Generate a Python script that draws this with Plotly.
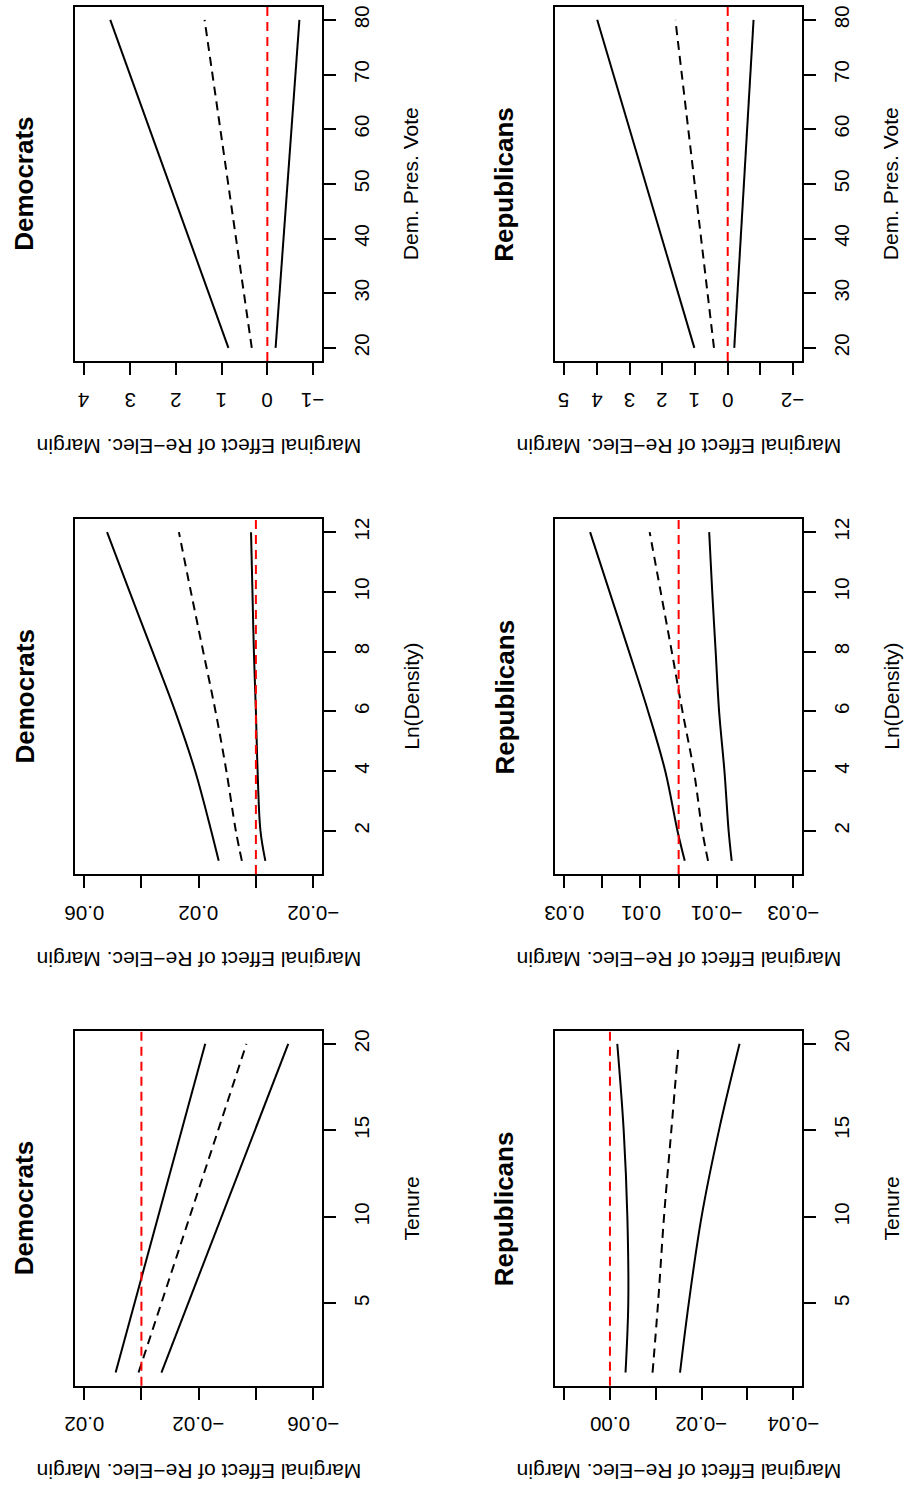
import plotly.graph_objects as go

# ---------------- data ----------------
pres_vote = [20, 50, 80]
dem_pres_upper = [0.85, 2.14, 3.43]
dem_pres_mean = [0.34, 0.86, 1.37]
dem_pres_lower = [-0.18, -0.44, -0.70]
rep_pres_upper = [1.02, 2.50, 3.99]
rep_pres_mean = [0.42, 1.01, 1.60]
rep_pres_lower = [-0.20, -0.50, -0.79]

ln_density = [1, 2, 4, 6, 8, 10, 12]
dem_dens_upper = [0.0130, 0.0156, 0.0212, 0.0282, 0.0361, 0.0441, 0.0520]
dem_dens_mean = [0.0049, 0.0070, 0.0103, 0.0141, 0.0184, 0.0227, 0.0269]
dem_dens_lower = [-0.0033, -0.0016, -0.0006, 0.0000, 0.0007, 0.0012, 0.0017]
rep_dens_upper = [-0.0016, 0.0003, 0.0035, 0.0080, 0.0130, 0.0181, 0.0232]
rep_dens_mean = [-0.0077, -0.0062, -0.0040, -0.0010, 0.0018, 0.0047, 0.0076]
rep_dens_lower = [-0.0139, -0.0131, -0.0120, -0.0106, -0.0097, -0.0088, -0.0080]

tenure = [1, 5, 10, 15, 20]
dem_ten_upper = [0.0090, 0.0024, -0.0060, -0.0142, -0.0223]
dem_ten_mean = [0.0010, -0.0070, -0.0169, -0.0268, -0.0367]
dem_ten_lower = [-0.0070, -0.0163, -0.0280, -0.0396, -0.0513]
rep_ten_upper = [-0.0034, -0.0040, -0.0038, -0.0030, -0.0016]
rep_ten_mean = [-0.0093, -0.0105, -0.0118, -0.0134, -0.0150]
rep_ten_lower = [-0.0153, -0.0172, -0.0200, -0.0238, -0.0283]

# effect-axis ticks (labels R dropped for overlap are blank)
dem_pres_ticks = [4, 3, 2, 1, 0, -1]
dem_pres_labels = ["4", "3", "2", "1", "0", "\u22121"]
rep_pres_ticks = [5, 4, 3, 2, 1, 0, -1, -2]
rep_pres_labels = ["5", "4", "3", "2", "1", "0", "", "\u22122"]
dem_dens_ticks = [0.06, 0.04, 0.02, 0.00, -0.02]
dem_dens_labels = ["0.06", "", "0.02", "", "\u22120.02"]
rep_dens_ticks = [0.03, 0.02, 0.01, 0.00, -0.01, -0.02, -0.03]
rep_dens_labels = ["0.03", "", "0.01", "", "\u22120.01", "", "\u22120.03"]
dem_ten_ticks = [0.02, 0.00, -0.02, -0.04, -0.06]
dem_ten_labels = ["0.02", "", "\u22120.02", "", "\u22120.06"]
rep_ten_ticks = [0.01, 0.00, -0.01, -0.02, -0.03, -0.04]
rep_ten_labels = ["", "0.00", "", "\u22120.02", "", "\u22120.04"]

pres_ticks = [20, 30, 40, 50, 60, 70, 80]
dens_ticks = [2, 4, 6, 8, 10, 12]
ten_ticks = [5, 10, 15, 20]

party_titles = ["Democrats", "Republicans"]
covariate_titles = ["Dem. Pres. Vote", "Ln(Density)", "Tenure"]
effect_title = "Marginal Effect of Re\u2212Elec. Margin"

# ---------------- layout geometry ----------------
W, H = 906, 1491
FONT = "Liberation Sans, Arial, Helvetica, sans-serif"
TICK_SIZE = 20.5
LABEL_SIZE = 21
col_px = [(75, 322.3), (555, 802.3)]
row_px = [(6.7, 361), (519, 874), (1030.7, 1385.7)]

panels = [
    (0, 0, pres_vote, dem_pres_upper, dem_pres_mean, dem_pres_lower, [4.2, -1.2], dem_pres_ticks, dem_pres_labels, [17.6, 82.4], pres_ticks, False),
    (0, 1, pres_vote, rep_pres_upper, rep_pres_mean, rep_pres_lower, [5.28, -2.28], rep_pres_ticks, rep_pres_labels, [17.6, 82.4], pres_ticks, False),
    (1, 0, ln_density, dem_dens_upper, dem_dens_mean, dem_dens_lower, [0.0632, -0.0232], dem_dens_ticks, dem_dens_labels, [0.56, 12.44], dens_ticks, True),
    (1, 1, ln_density, rep_dens_upper, rep_dens_mean, rep_dens_lower, [0.0324, -0.0324], rep_dens_ticks, rep_dens_labels, [0.56, 12.44], dens_ticks, True),
    (2, 0, tenure, dem_ten_upper, dem_ten_mean, dem_ten_lower, [0.0232, -0.0632], dem_ten_ticks, dem_ten_labels, [0.24, 20.76], ten_ticks, False),
    (2, 1, tenure, rep_ten_upper, rep_ten_mean, rep_ten_lower, [0.012, -0.042], rep_ten_ticks, rep_ten_labels, [0.24, 20.76], ten_ticks, True),
]

fig = go.Figure()
layout = dict(
    width=W, height=H, margin=dict(l=0, r=0, t=0, b=0, autoexpand=False),
    paper_bgcolor="white", plot_bgcolor="white", showlegend=False,
    font=dict(family=FONT, size=20, color="black"),
)
shapes = []
annotations = []

for i, (r, c, xs, up, mid, lo, xr, xt, xl, yr, yt, smooth) in enumerate(panels, start=1):
    xa = "x" if i == 1 else f"x{i}"
    ya = "y" if i == 1 else f"y{i}"
    shape = "spline" if smooth else "linear"
    for vals, dash in ((up, "solid"), (mid, "9px,6px"), (lo, "solid")):
        fig.add_trace(go.Scatter(
            x=vals, y=xs, mode="lines", xaxis=xa, yaxis=ya,
            line=dict(color="black", width=2, dash=dash, shape=shape),
            hoverinfo="skip",
        ))
    x0, x1 = col_px[c]
    y0, y1 = row_px[r]
    layout["xaxis" if i == 1 else f"xaxis{i}"] = dict(
        domain=[x0 / W, x1 / W], anchor=ya, range=xr, automargin=False,
        tickmode="array", tickvals=xt, showticklabels=False,
        ticks="outside", ticklen=12, tickwidth=1.5, tickcolor="black",
        showline=True, linecolor="black", linewidth=2, mirror=True,
        showgrid=False, zeroline=False,
    )
    layout["yaxis" if i == 1 else f"yaxis{i}"] = dict(
        domain=[1 - y1 / H, 1 - y0 / H], anchor=xa, range=yr, side="right",
        automargin=False,
        tickmode="array", tickvals=yt, tickangle=-90, ticklabelstandoff=8,
        ticks="outside", ticklen=12, tickwidth=1.5, tickcolor="black",
        showline=True, linecolor="black", linewidth=2, mirror=True,
        showgrid=False, zeroline=False, tickfont=dict(size=TICK_SIZE),
    )
    shapes.append(dict(
        type="line", xref=xa, yref=f"{ya} domain", x0=0, x1=0, y0=0, y1=1,
        line=dict(color="red", width=2, dash="9px,6px"),
    ))
    # upside-down tick labels of the effect axis, placed on the axis scale
    for tv, tl in zip(xt, xl):
        if tl:
            annotations.append(dict(
                text=tl, x=tv, xref=xa, y=1 - (y1 + 39.5) / H, yref="paper",
                showarrow=False, textangle=180, xanchor="center", yanchor="middle",
                font=dict(size=TICK_SIZE, family=FONT),
            ))
    cx = (x0 + x1) / 2
    cy = (y0 + y1) / 2
    annotations.append(dict(
        text=effect_title, x=cx / W, y=1 - (y1 + 86) / H, xref="paper", yref="paper",
        showarrow=False, textangle=180, xanchor="center", yanchor="middle",
        font=dict(size=LABEL_SIZE, family=FONT),
    ))
    annotations.append(dict(
        text=covariate_titles[r], x=(x1 + 89) / W, y=1 - cy / H, xref="paper", yref="paper",
        showarrow=False, textangle=-90, xanchor="center", yanchor="middle",
        font=dict(size=LABEL_SIZE, family=FONT),
    ))
    annotations.append(dict(
        text=f"<b>{party_titles[c]}</b>", x=(x0 - 51) / W, y=1 - cy / H, xref="paper", yref="paper",
        showarrow=False, textangle=-90, xanchor="center", yanchor="middle",
        font=dict(size=26, family=FONT),
    ))

layout["shapes"] = shapes
layout["annotations"] = annotations
fig.update_layout(**layout)
fig.write_html("out.html")
